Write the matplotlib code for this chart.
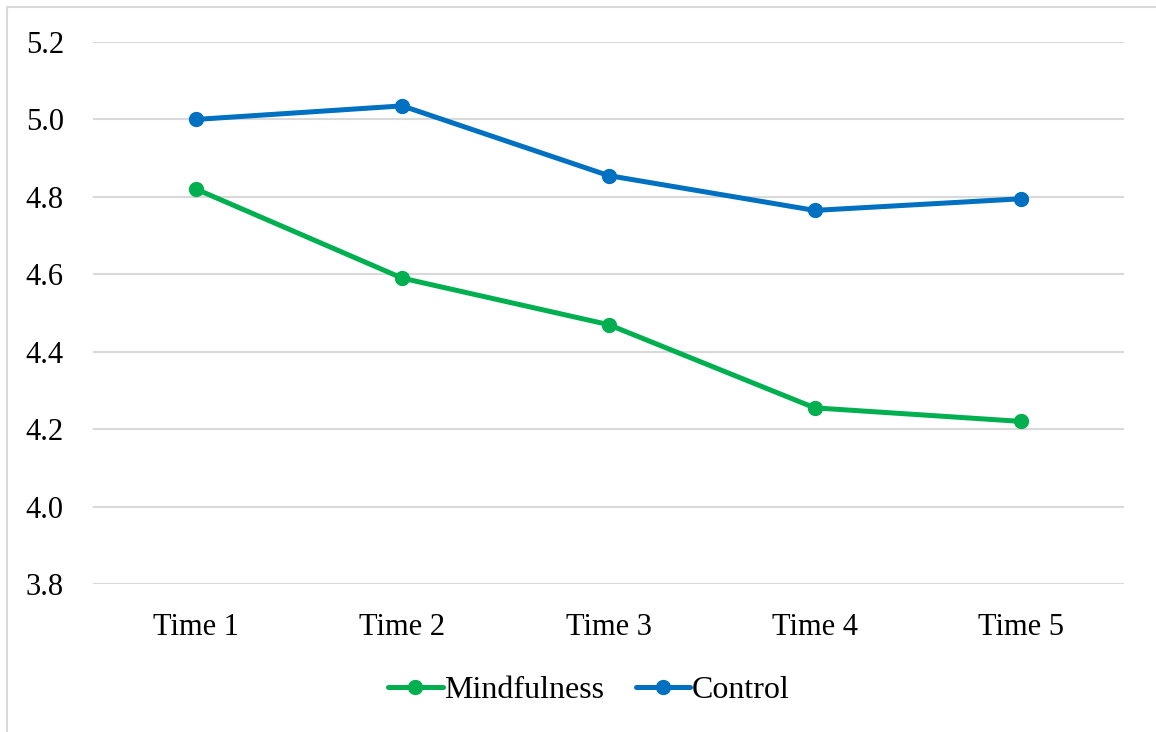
import matplotlib
matplotlib.use("Agg")
import matplotlib.pyplot as plt
from matplotlib.patches import Rectangle

# data
times = ["Time 1", "Time 2", "Time 3", "Time 4", "Time 5"]
mindfulness = [4.82, 4.59, 4.47, 4.255, 4.22]
control = [5.00, 5.035, 4.855, 4.765, 4.795]
y_ticks = [3.8, 4.0, 4.2, 4.4, 4.6, 4.8, 5.0, 5.2]

plt.rcParams['font.family'] = ['Liberation Serif', 'DejaVu Serif']

fig = plt.figure(figsize=(11.56, 7.32), dpi=100)
ax = fig.add_axes([93 / 1156, 1 - 584 / 732, (1124 - 93) / 1156, (584 - 42) / 732])

# light outer frame (left and top edges visible in the reference)
fig.patches.append(Rectangle((7 / 1156, -0.1), 1.2, 1 - 7 / 732 + 0.1,
                             transform=fig.transFigure, fill=False,
                             edgecolor='#d9d9d9', linewidth=1.5))

x = list(range(len(times)))
ax.plot(x, mindfulness, color='#00B050', linewidth=3.6, marker='o',
        markersize=10, label='Mindfulness', solid_capstyle='round', zorder=3)
ax.plot(x, control, color='#0070C0', linewidth=3.6, marker='o',
        markersize=10, label='Control', solid_capstyle='round', zorder=3)

ax.set_xlim(-0.5, len(times) - 0.5)
ax.set_ylim(3.8, 5.2)
ax.set_yticks(y_ticks)
ax.set_yticklabels([f"{v:.1f}" for v in y_ticks])
ax.set_xticks(x)
ax.set_xticklabels(times)

ax.grid(axis='y', color='#d9d9d9', linewidth=1.5)
ax.set_axisbelow(True)
for s in ax.spines.values():
    s.set_visible(False)
ax.tick_params(axis='both', length=0, labelsize=22, colors='black')
ax.tick_params(axis='y', pad=21)
ax.tick_params(axis='x', pad=21)

fig.legend(loc='center', bbox_to_anchor=(589 / 1156, 1 - 690 / 732), ncol=2,
           frameon=False, fontsize=23, handlelength=1.7, handletextpad=0.05,
           columnspacing=1.0)

fig.savefig('out.png', dpi=100, facecolor='white')
